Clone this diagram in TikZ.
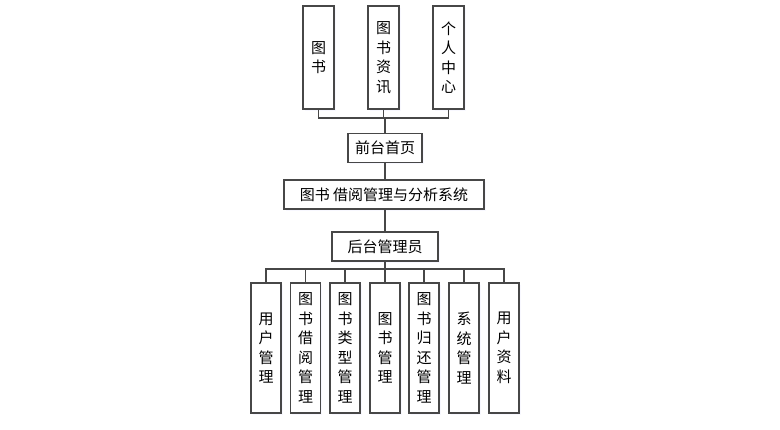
\documentclass[tikz,border=0pt]{standalone}
\usepackage{fontspec}
\setmainfont{Noto Sans CJK SC}
\usetikzlibrary{shadows}
\begin{document}
\begin{tikzpicture}[x=1pt,y=-1pt,
  box/.style={draw=black!72,line width=1.2pt,fill=white,inner sep=0pt,align=center,font=\fontsize{15}{19.5}\selectfont,
    drop shadow={opacity=.1,shadow xshift=1.5pt,shadow yshift=-1.5pt,fill=blue!25}},
  hbox/.style={box,minimum height=29pt},
  vbox/.style={box,minimum width=30pt,minimum height=130pt},
  tbox/.style={box,minimum width=31pt,minimum height=103pt},
  link/.style={draw=black!72,line width=1.2pt}]
\useasboundingbox (0,0) rectangle (780,429);
% front end
\node[tbox] (tsh) at (318.5,57.5) {图\\书};
\node[tbox] (tzx) at (383.5,57.5) {图\\书\\资\\讯};
\node[tbox] (grz) at (448.5,57.5) {个\\人\\中\\心};
\node[hbox,minimum width=74pt] (qtsy) at (385,148) {前台首页};
\coordinate (tj) at (385,118);
\draw[link] (tsh.south) |- (tj) -| (grz.south);\draw[link] (tzx.south) |- (tj) -- (qtsy.north);
% system
\node[hbox,minimum width=200pt] (sys) at (384,194.5) {图书 借阅管理与分析系统};
\node[hbox,minimum width=106pt] (htgl) at (385,246.5) {后台管理员};
\draw[link] (qtsy.south) -- (qtsy.south|-sys.north);\draw[link] (sys.south-|htgl.north) -- (htgl.north);
% back end
\coordinate (bj) at (385,269);
\foreach \x/\n/\t in {266/yhgl/用\\户\\管\\理,305.5/jygl/图\\书\\借\\阅\\管\\理,345/lxgl/图\\书\\类\\型\\管\\理,385/tsgl/图\\书\\管\\理,424/ghgl/图\\书\\归\\还\\管\\理,464/xtgl/系\\统\\管\\理,504/yhzl/用\\户\\资\\料}
  \node[vbox] (\n) at (\x,348) {\t};
\draw[link] (htgl.south) -- (bj);\draw[link] (yhgl.north) |- (bj) -| (yhzl.north);
\foreach \n in {jygl,lxgl,tsgl,ghgl,xtgl} \draw[link] (\n.north) -- (\n.north|-bj);
\end{tikzpicture}
\end{document}
